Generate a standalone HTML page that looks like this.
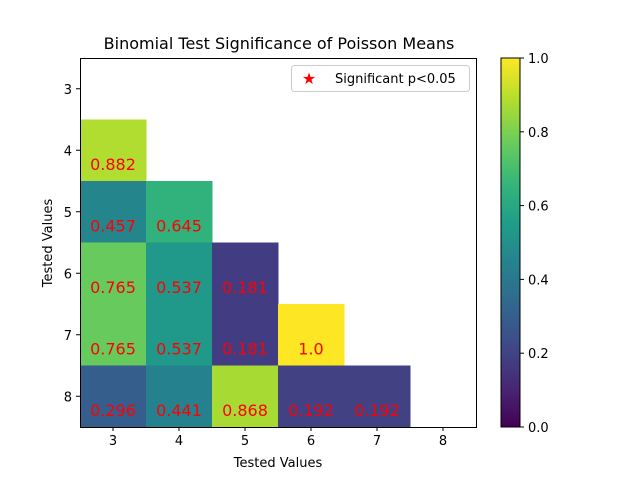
<!DOCTYPE html>
<html><head><meta charset="utf-8"><style>
body{margin:0;background:#fff}
svg text{font-family:"DejaVu Sans","Liberation Sans",sans-serif}
</style></head><body>
<svg id="chart" width="640" height="480" xmlns="http://www.w3.org/2000/svg">
<rect width="640" height="480" fill="#fff"/>
<text x="279" y="49" font-size="16" text-anchor="middle">Binomial Test Significance of Poisson Means</text>
<g id="cells"></g>
<rect x="80.5" y="58.5" width="396" height="369" fill="none" stroke="#000" stroke-width="1"/>
<g id="axes"></g>
<text x="278" y="467" font-size="13" text-anchor="middle">Tested Values</text>
<text x="52" y="243" font-size="13" text-anchor="middle" transform="rotate(-90 52 243)">Tested Values</text>
<g>
<rect x="291.5" y="65.5" width="178" height="26" rx="3" fill="#fff" stroke="#ccc"/>
<text x="309" y="84" font-size="16" fill="red" text-anchor="middle">★</text>
<text x="335" y="83" font-size="13">Significant p&lt;0.05</text>
</g>
<defs><linearGradient id="vg" x1="0" y1="1" x2="0" y2="0"></linearGradient></defs>
<rect x="501" y="58" width="19" height="369" fill="url(#vg)" stroke="#000" stroke-width="1"/>
<g id="cbar"></g>
</svg>
<script>
const xCats=[3,4,5,6,7,8];
const yCats=[3,4,5,6,7,8];
const cellX=[3,3,4,3,4,5,3,4,5,6,3,4,5,6,7];
const cellY=[4,5,5,6,6,6,7,7,7,7,8,8,8,8,8];
const cellP=[0.882,0.457,0.645,0.765,0.537,0.181,0.765,0.537,0.181,1.0,0.296,0.441,0.868,0.192,0.192];
const cellLabels=["0.882","0.457","0.645","0.765","0.537","0.181","0.765","0.537","0.181","1.0","0.296","0.441","0.868","0.192","0.192"];
const cbTicks=[0,0.2,0.4,0.6,0.8,1.0];
const cbLabels=["0.0","0.2","0.4","0.6","0.8","1.0"];

const L=80,R=476,T=58,B=427;
const cw=(R-L)/xCats.length, ch=(B-T)/yCats.length;
const xs=v=>L+(v-xCats[0])*cw;
const ys=v=>T+(v-yCats[0])*ch;
const vir=[[68,1,84],[72,40,120],[62,74,137],[49,104,142],[38,130,142],[31,158,137],[53,183,121],[109,205,89],[180,222,44],[253,231,37]];
function viridis(t){t=Math.max(0,Math.min(1,t))*(vir.length-1);const i=Math.min(Math.floor(t),vir.length-2),f=t-i;
const c=vir[i].map((a,k)=>Math.round(a+(vir[i+1][k]-a)*f));return `rgb(${c})`;}
const NS="http://www.w3.org/2000/svg";
function mk(tag,attrs,parent,txt){const e=document.createElementNS(NS,tag);for(const k in attrs)e.setAttribute(k,attrs[k]);if(txt!==undefined)e.textContent=txt;parent.appendChild(e);return e;}
const cells=document.getElementById('cells');
cellP.forEach((p,i)=>{
 const r=mk('rect',{x:xs(cellX[i]),y:ys(cellY[i]),width:cw+0.5,height:ch+0.5,fill:viridis(p)},cells);
 
 
 const t=mk('text',{x:xs(cellX[i])+cw/2,y:ys(cellY[i])+ch-11,'font-size':16,fill:'red','text-anchor':'middle'},cells,cellLabels[i]);
 
 
});
const ax=document.getElementById('axes');
xCats.forEach(v=>{const x=xs(v)+cw/2;
 const l=mk('line',{x1:x,x2:x,y1:B,y2:B+4,stroke:'#000'},ax);
 
 
 const t=mk('text',{x:x,y:B+18,'font-size':13,'text-anchor':'middle'},ax,v);
 
 
});
yCats.forEach(v=>{const y=ys(v)+ch/2;
 const l=mk('line',{x1:L-4,x2:L,y1:y,y2:y,stroke:'#000'},ax);
 
 
 const t=mk('text',{x:L-8,y:y+5,'font-size':13,'text-anchor':'end'},ax,v);
 
 
});
const g=document.getElementById('vg');
for(let i=0;i<=20;i++)mk('stop',{offset:i/20,'stop-color':viridis(i/20)},g);
const cb=document.getElementById('cbar');
cbTicks.forEach((v,i)=>{const y=B-v*(B-T);
 const l=mk('line',{x1:520,x2:524,y1:y,y2:y,stroke:'#000'},cb);
 
 
 const t=mk('text',{x:528,y:y+5,'font-size':13},cb,cbLabels[i]);
 
 
});
</script>
</body></html>
